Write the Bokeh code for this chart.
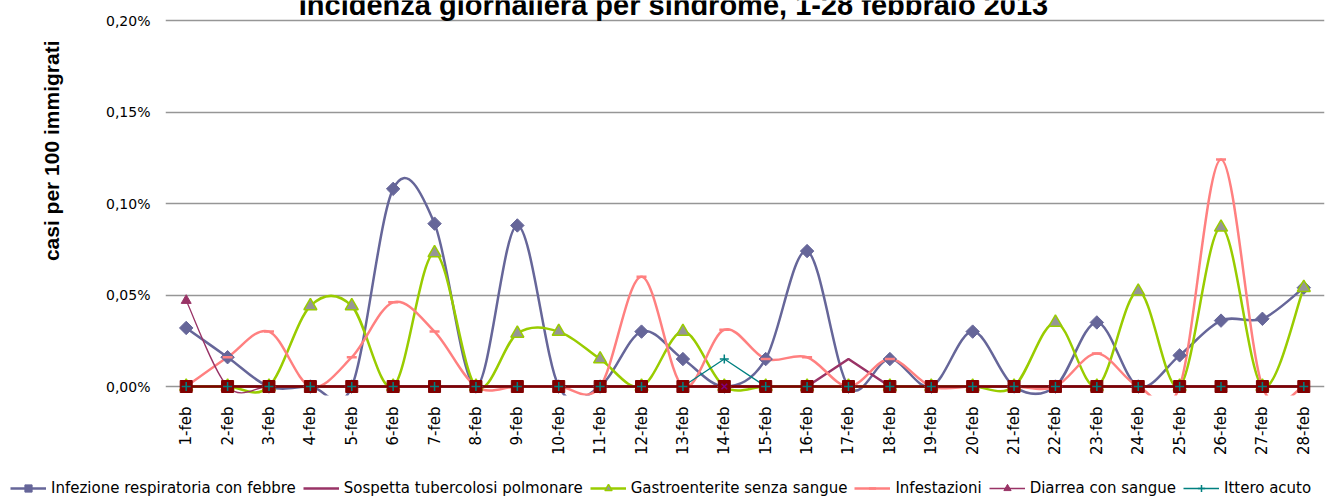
import math
from bokeh.plotting import figure
from bokeh.layouts import column
from bokeh.models import Range1d, FixedTicker, Label, Legend, LegendItem, ColumnDataSource, Title
from bokeh.embed import file_html
from bokeh.resources import INLINE

nan = float("nan")

# ---------------- data (values in %, i.e. casi per 100 immigrati) ----------------
giorni = ["1-feb", "2-feb", "3-feb", "4-feb", "5-feb", "6-feb", "7-feb", "8-feb",
          "9-feb", "10-feb", "11-feb", "12-feb", "13-feb", "14-feb", "15-feb",
          "16-feb", "17-feb", "18-feb", "19-feb", "20-feb", "21-feb", "22-feb",
          "23-feb", "24-feb", "25-feb", "26-feb", "27-feb", "28-feb"]

infezione_resp = [0.032, 0.016, 0.0, 0.0, 0.0, 0.108, 0.089, 0.0, 0.088, 0.0, 0.0, 0.030, 0.015, 0.0,
                  0.015, 0.074, 0.0, 0.015, 0.0, 0.030, 0.0, 0.0, 0.035, 0.0, 0.017, 0.036, 0.037, 0.054]
sospetta_tbc = [0.0, 0.0, 0.0, 0.0, 0.0, 0.0, 0.0, 0.0, 0.0, 0.0, 0.0, 0.0, 0.0, 0.0,
                0.0, 0.0, 0.015, 0.0, 0.0, 0.0, 0.0, 0.0, 0.0, 0.0, 0.0, 0.0, 0.0, 0.0]
gastroenteriti = [0.0, 0.0, 0.0, 0.044, 0.044, 0.0, 0.073, 0.0, 0.029, 0.030, 0.015, 0.0, 0.030, 0.0,
                  0.0, 0.0, 0.0, 0.0, 0.0, 0.0, 0.0, 0.035, 0.0, 0.052, 0.0, 0.087, 0.0, 0.054]
infestazioni = [0.0, 0.016, 0.030, 0.0, 0.016, 0.046, 0.030, 0.0, 0.0, 0.0, 0.0, 0.060, 0.0, 0.031,
                0.015, 0.016, 0.0, 0.015, 0.0, 0.0, 0.0, 0.0, 0.018, 0.0, 0.0, 0.124, 0.0, 0.0]
diarrea_sangue = [0.047, 0.0, 0.0, 0.0, 0.0, 0.0, 0.0, 0.0, 0.0, 0.0, 0.0, 0.0, 0.0, 0.0,
                  0.0, 0.0, 0.0, 0.0, 0.0, 0.0, 0.0, 0.0, 0.0, 0.0, 0.0, 0.0, 0.0, 0.0]
ittero_acuto = [0.0, 0.0, 0.0, 0.0, 0.0, 0.0, 0.0, 0.0, 0.0, 0.0, 0.0, 0.0, 0.0, 0.015,
                0.0, 0.0, 0.0, 0.0, 0.0, 0.0, 0.0, 0.0, 0.0, 0.0, 0.0, 0.0, 0.0, 0.0]
# further series (legend cut off in the original)
altra_serie_1 = [0.0, 0.0, 0.0, 0.0, 0.0, 0.0, 0.0, 0.0, 0.0, 0.0, 0.0, 0.0, 0.0, 0.0,
                 0.0, 0.0, 0.0, 0.0, 0.0, 0.0, 0.0, 0.0, 0.0, 0.0, 0.0, 0.0, 0.0, 0.0]
altra_serie_2 = [nan, nan, nan, nan, nan, nan, nan, nan, nan, nan, nan, nan, nan, 0.0,
                 nan, nan, nan, nan, nan, nan, nan, nan, nan, nan, nan, nan, nan, nan]

y_ticks = [0.0, 0.05, 0.10, 0.15, 0.20]
y_tick_labels = ["0,00%", "0,05%", "0,10%", "0,15%", "0,20%"]

serie_nomi = ["Infezione respiratoria con febbre", "Sospetta tubercolosi polmonare",
              "Gastroenterite senza sangue", "Infestazioni", "Diarrea con sangue", "Ittero acuto"]

titolo = "Incidenza giornaliera per sindrome, 1-28 febbraio 2013"
asse_y = "casi per 100 immigrati"

xs = list(range(1, len(giorni) + 1))

# ---------------- helpers ----------------
def smooth_source(xv, yv):
    """Bezier control points (Excel-like smoothed line) through the data points."""
    n = len(xv)
    d = dict(x0=[], y0=[], x1=[], y1=[], cx0=[], cy0=[], cx1=[], cy1=[])
    for i in range(n - 1):
        a = i - 1 if i > 0 else i
        b = i + 2 if i + 2 < n else i + 1
        d["x0"].append(xv[i]); d["y0"].append(yv[i])
        d["x1"].append(xv[i + 1]); d["y1"].append(yv[i + 1])
        d["cx0"].append(xv[i] + (xv[i + 1] - xv[a]) / 6.0)
        d["cy0"].append(yv[i] + (yv[i + 1] - yv[a]) / 6.0)
        d["cx1"].append(xv[i + 1] - (xv[b] - xv[i]) / 6.0)
        d["cy1"].append(yv[i + 1] - (yv[b] - yv[i]) / 6.0)
    return ColumnDataSource(d)

LEFT = 163
W = 1328
FRAME_W, FRAME_H = 1159, 395
LEG_H = 18
PX_PER_UNIT_Y = 366 / 0.2          # 0,00% at y=386, 0,20% at y=20
y_end = 0.2 + 20 / PX_PER_UNIT_Y
y_start = -9 / PX_PER_UNIT_Y

p = figure(frame_width=FRAME_W, frame_height=FRAME_H,
           x_range=Range1d(0.5, len(giorni) + 0.5), y_range=Range1d(y_start, y_end),
           output_backend="svg", toolbar_location=None,
           min_border_left=LEFT, min_border_right=W - LEFT - FRAME_W,
           min_border_top=0, min_border_bottom=497 - FRAME_H - LEG_H)
p.outline_line_color = None
p.background_fill_color = "white"
p.border_fill_color = "white"

p.xgrid.grid_line_color = None
p.ygrid.ticker = FixedTicker(ticks=y_ticks)
p.ygrid.grid_line_color = "#969696"
p.ygrid.grid_line_width = 1.5

p.yaxis.ticker = FixedTicker(ticks=y_ticks)
p.yaxis.major_label_overrides = {t: l for t, l in zip(y_ticks, y_tick_labels)}
p.yaxis.axis_line_color = None
p.yaxis.major_tick_line_color = None
p.yaxis.minor_tick_line_color = None
p.yaxis.major_tick_out = 0
p.yaxis.major_tick_in = 0
p.yaxis.minor_tick_out = 0
p.yaxis.major_label_standoff = 15
p.yaxis.major_label_text_font = "DejaVu Sans"
p.yaxis.major_label_text_font_size = "14px"
p.yaxis.major_label_text_color = "#000000"

p.xaxis.ticker = FixedTicker(ticks=xs)
p.xaxis.major_label_overrides = {x: g for x, g in zip(xs, giorni)}
p.xaxis.major_label_orientation = math.pi / 2
p.xaxis.axis_line_color = None
p.xaxis.major_tick_line_color = None
p.xaxis.minor_tick_line_color = None
p.xaxis.major_tick_out = 0
p.xaxis.major_tick_in = 0
p.xaxis.minor_tick_out = 0
p.xaxis.major_label_standoff = 11
p.xaxis.major_label_text_font = "DejaVu Sans"
p.xaxis.major_label_text_font_size = "15px"
p.xaxis.major_label_text_color = "#000000"

C_INF = "#666699"
C_TBC = "#993366"
C_GAS = "#99CC00"
C_IFS = "#FF8080"
C_DIA = "#993366"
C_ITT = "#008080"
C_RED = "#800000"

# ---------------- lines ----------------
p.bezier("x0", "y0", "x1", "y1", "cx0", "cy0", "cx1", "cy1",
         source=smooth_source(xs, infezione_resp), line_color=C_INF, line_width=2.5)
p.line(xs, sospetta_tbc, line_color=C_TBC, line_width=2.5)
p.bezier("x0", "y0", "x1", "y1", "cx0", "cy0", "cx1", "cy1",
         source=smooth_source(xs, gastroenteriti), line_color=C_GAS, line_width=2.5)
p.bezier("x0", "y0", "x1", "y1", "cx0", "cy0", "cx1", "cy1",
         source=smooth_source(xs, infestazioni), line_color=C_IFS, line_width=2.5)
p.bezier("x0", "y0", "x1", "y1", "cx0", "cy0", "cx1", "cy1",
         source=smooth_source(xs, diarrea_sangue), line_color=C_DIA, line_width=1.3)
p.line(xs, ittero_acuto, line_color=C_ITT, line_width=1.3)
p.line(xs, altra_serie_1, line_color=C_RED, line_width=2.5)

# ---------------- markers ----------------
p.scatter(xs, infezione_resp, marker="square", angle=math.pi / 4, size=9.5,
          fill_color=C_INF, line_color=C_INF, line_width=1)
p.scatter(xs, gastroenteriti, marker="triangle", size=13,
          fill_color="#969696", line_color=C_GAS, line_width=1.5)
p.scatter(xs, infestazioni, marker="dash", size=10, line_color=C_IFS, line_width=2.5)
p.scatter(xs, diarrea_sangue, marker="triangle", size=10,
          fill_color=C_DIA, line_color=C_DIA, line_width=1)
p.scatter(xs, altra_serie_1, marker="square", size=12, fill_color=C_RED, line_color=C_RED)
p.scatter(xs, altra_serie_2, marker="x", size=8, line_color="#800080", line_width=1.5)
p.scatter(xs, ittero_acuto, marker="cross", size=9, line_color=C_ITT, line_width=1.5)

# ---------------- texts ----------------
px_per_x = FRAME_W / len(giorni)
p.add_layout(Label(x=0.5 + (671 - LEFT) / px_per_x, y=0.2 + 16 / PX_PER_UNIT_Y, text=titolo,
                   text_align="center", text_baseline="alphabetic",
                   text_font="Liberation Sans Narrow, Liberation Sans",
                   text_font_style="bold", text_font_size="29px", text_color="#000000"))

y_title = Title(text=asse_y, align="right", offset=40, vertical_align="top", standoff=78,
                text_font="Liberation Sans", text_font_style="bold",
                text_font_size="21px", text_color="#000000")
p.add_layout(y_title, "left")

# ---------------- legend (own strip below the chart) ----------------
pl = figure(width=W, height=LEG_H, x_range=Range1d(0, 1), y_range=Range1d(0, 1),
            output_backend="svg", toolbar_location=None,
            x_axis_location=None, y_axis_location=None, min_border=0)
pl.outline_line_color = None
pl.grid.visible = False
pl.background_fill_color = "white"
pl.border_fill_color = "white"

# keep the legend strip's frame independent of the chart's frame
for fig in (p, pl):
    try:
        fig.frame_align = False
    except Exception:
        pass

e = [nan]
l_inf = pl.line(e, e, line_color=C_INF, line_width=2.5)
m_inf = pl.scatter(e, e, marker="square", angle=math.pi / 4, fill_color=C_INF, line_color=C_INF)
l_tbc = pl.line(e, e, line_color=C_TBC, line_width=2.5)
l_gas = pl.line(e, e, line_color=C_GAS, line_width=2.5)
m_gas = pl.scatter(e, e, marker="triangle", fill_color="#969696", line_color=C_GAS, line_width=1.5)
l_ifs = pl.line(e, e, line_color=C_IFS, line_width=2.5)
m_ifs = pl.scatter(e, e, marker="dash", line_color=C_IFS, line_width=2.5)
l_dia = pl.line(e, e, line_color=C_DIA, line_width=1.3)
m_dia = pl.scatter(e, e, marker="triangle", fill_color=C_DIA, line_color=C_DIA)
l_itt = pl.line(e, e, line_color=C_ITT, line_width=1.3)
m_itt = pl.scatter(e, e, marker="cross", line_color=C_ITT, line_width=1.5)

legend = Legend(items=[
    LegendItem(label=serie_nomi[0], renderers=[l_inf, m_inf]),
    LegendItem(label=serie_nomi[1], renderers=[l_tbc]),
    LegendItem(label=serie_nomi[2], renderers=[l_gas, m_gas]),
    LegendItem(label=serie_nomi[3], renderers=[l_ifs, m_ifs]),
    LegendItem(label=serie_nomi[4], renderers=[l_dia, m_dia]),
    LegendItem(label=serie_nomi[5], renderers=[l_itt, m_itt]),
], orientation="horizontal", location=(10, 0), glyph_width=36, glyph_height=LEG_H,
    label_height=LEG_H, label_standoff=5, spacing=7, padding=0, margin=0,
    border_line_color=None, background_fill_alpha=0,
    label_text_font="DejaVu Sans", label_text_font_size="15px", label_text_color="#000000")
pl.add_layout(legend)

page = column(p, pl, spacing=0)
open("out.html", "w").write(file_html(page, INLINE))
